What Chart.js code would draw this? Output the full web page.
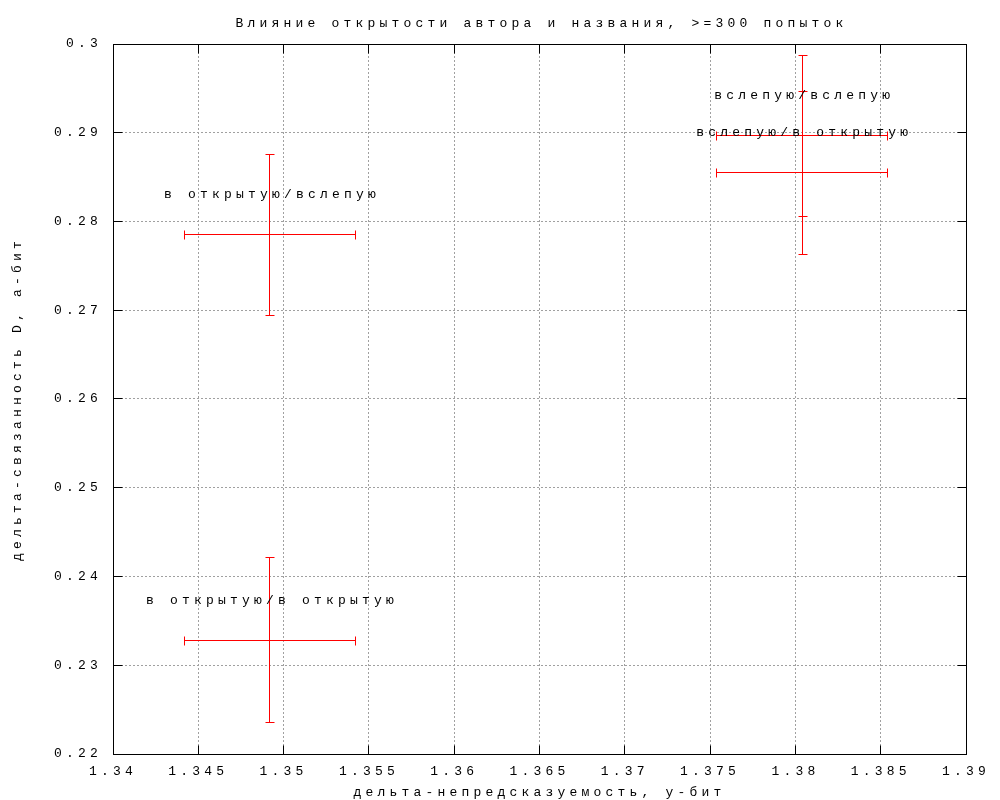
<!DOCTYPE html>
<html>
<head>
<meta charset="utf-8">
<script src="https://cdn.jsdelivr.net/npm/chart.js@4.4.0/dist/chart.umd.min.js"></script>
<style>
    body { margin: 0; background: #fff; }
    #wrap { width: 1000px; height: 800px; }
</style>
</head>
<body>
<div id="wrap"><canvas id="errChart" width="1000" height="800"></canvas></div>
<script>
// data
var pointNames = ['в открытую/вслепую', 'в открытую/в открытую', 'вслепую/вслепую', 'вслепую/в открытую'];
var xValues = [1.3492, 1.3492, 1.3804, 1.3804];
var xErrors = [0.0050, 0.0050, 0.0050, 0.0050];
var yValues = [0.2785, 0.2328, 0.2897, 0.2855];
var yLow = [0.2694, 0.2236, 0.2806, 0.2763];
var yHigh = [0.2876, 0.2421, 0.2987, 0.2946];

var xTicks = [1.34, 1.345, 1.35, 1.355, 1.36, 1.365, 1.37, 1.375, 1.38, 1.385, 1.39];
var xTickLabels = ['1.34', '1.345', '1.35', '1.355', '1.36', '1.365', '1.37', '1.375', '1.38', '1.385', '1.39'];
var yTicks = [0.22, 0.23, 0.24, 0.25, 0.26, 0.27, 0.28, 0.29, 0.3];
var yTickLabels = ['0.22', '0.23', '0.24', '0.25', '0.26', '0.27', '0.28', '0.29', '0.3'];

var chartTitle = 'Влияние открытости автора и названия, >=300 попыток';
var xTitle = 'дельта-непредсказуемость, у-бит';
var yTitle = 'дельта-связанность D, а-бит';

var FONT = 'Liberation Mono';

function crisp(p) {
    return Math.round(p - 0.5) + 0.5;
}

function line(ctx, x1, y1, x2, y2) {
    ctx.beginPath();
    ctx.moveTo(x1, y1);
    ctx.lineTo(x2, y2);
    ctx.stroke();
}

// gnuplot look: frame, inward ticks, error bars, labels
var gnuplotLook = {
    id: 'gnuplotLook',
    afterLayout: function (chart) {
        // centre the title over the plot area, like gnuplot does
        if (chart.titleBlock) {
            chart.titleBlock.left = chart.chartArea.left + 2;
            chart.titleBlock.right = chart.chartArea.right + 2;
        }
    },
    beforeDraw: function (chart) {
        var ctx = chart.ctx;
        ctx.fillStyle = '#fff';
        ctx.fillRect(0, 0, chart.width, chart.height);
        ctx.letterSpacing = '4.2px';
    },
    afterDatasetsDraw: function (chart) {
        var ctx = chart.ctx;
        var xs = chart.scales.x, ys = chart.scales.y;
        var a = chart.chartArea;
        var cap = 4;
        ctx.save();
        ctx.lineWidth = 1;

        // error bars
        ctx.strokeStyle = '#ff0000';
        for (var i = 0; i < xValues.length; i++) {
            var px = crisp(xs.getPixelForValue(xValues[i]));
            var py = crisp(ys.getPixelForValue(yValues[i]));
            var x1 = crisp(xs.getPixelForValue(xValues[i] - xErrors[i]));
            var x2 = crisp(xs.getPixelForValue(xValues[i] + xErrors[i]));
            var y1 = crisp(ys.getPixelForValue(yLow[i]));
            var y2 = crisp(ys.getPixelForValue(yHigh[i]));
            line(ctx, x1, py, x2, py);
            line(ctx, x1, py - cap, x1, py + cap + 1);
            line(ctx, x2, py - cap, x2, py + cap + 1);
            line(ctx, px, y1, px, y2);
            line(ctx, px - cap, y1, px + cap + 1, y1);
            line(ctx, px - cap, y2, px + cap + 1, y2);
        }

        // point labels
        ctx.fillStyle = '#000';
        ctx.font = '13px "' + FONT + '"';
        ctx.textAlign = 'center';
        ctx.textBaseline = 'middle';
        for (var j = 0; j < pointNames.length; j++) {
            var lx = xs.getPixelForValue(xValues[j]) + 2;
            var ly = ys.getPixelForValue(yValues[j]) - 40;
            ctx.fillText(pointNames[j], lx, ly);
        }

        // frame
        ctx.strokeStyle = '#000';
        var L = crisp(a.left), R = crisp(a.right), T = crisp(a.top), B = crisp(a.bottom);
        ctx.strokeRect(L, T, R - L, B - T);

        // inward ticks on all four sides
        var tl = 9;
        xTicks.forEach(function (v) {
            var x = crisp(xs.getPixelForValue(v));
            line(ctx, x, B, x, B - tl);
            line(ctx, x, T, x, T + tl);
        });
        yTicks.forEach(function (v) {
            var y = crisp(ys.getPixelForValue(v));
            line(ctx, L, y, L + tl, y);
            line(ctx, R, y, R - tl, y);
        });
        ctx.restore();
    }
};

var ctx = document.getElementById('errChart').getContext('2d');
var points = xValues.map(function (x, i) { return { x: x, y: yValues[i] }; });

var myChart = new Chart(ctx, {
    type: 'scatter',
    data: {
        datasets: [{
            label: 'points',
            data: points,
            pointRadius: 0,
            showLine: false
        }]
    },
    options: {
        responsive: false,
        devicePixelRatio: 1,
        animation: false,
        layout: { padding: { top: 0, left: 0, right: 34, bottom: 0 } },
        plugins: {
            legend: { display: false },
            tooltip: { enabled: false },
            title: {
                display: true,
                text: chartTitle,
                color: '#000',
                font: { family: FONT, size: 13, weight: 'normal', lineHeight: 1.2 },
                padding: { top: 16, bottom: 12.4 }
            }
        },
        scales: {
            x: {
                type: 'linear',
                min: 1.34,
                max: 1.39,
                afterBuildTicks: function (s) {
                    s.ticks = xTicks.map(function (v) { return { value: v }; });
                },
                afterFit: function (s) { s.height = 46; },
                ticks: {
                    autoSkip: false,
                    maxRotation: 0,
                    padding: 10,
                    color: '#000',
                    font: { family: FONT, size: 13 },
                    callback: function (v, i) { return xTickLabels[i]; }
                },
                grid: { color: '#a0a0a0', lineWidth: 1, drawTicks: false },
                border: { display: false, dash: [2, 2] },
                title: {
                    display: true,
                    text: xTitle,
                    color: '#000',
                    font: { family: FONT, size: 13, lineHeight: 1.2 },
                    padding: { top: 0, bottom: 0 }
                }
            },
            y: {
                type: 'linear',
                min: 0.22,
                max: 0.3,
                afterBuildTicks: function (s) {
                    s.ticks = yTicks.map(function (v) { return { value: v }; });
                },
                afterFit: function (s) { s.width = 113; },
                ticks: {
                    autoSkip: false,
                    padding: 11,
                    color: '#000',
                    font: { family: FONT, size: 13 },
                    callback: function (v, i) { return yTickLabels[i]; }
                },
                grid: { color: '#a0a0a0', lineWidth: 1, drawTicks: false },
                border: { display: false, dash: [2, 2] },
                title: {
                    display: true,
                    text: yTitle,
                    color: '#000',
                    font: { family: FONT, size: 13, lineHeight: 1.2 },
                    padding: { top: 10, bottom: 0 }
                }
            }
        }
    },
    plugins: [gnuplotLook]
});
</script>
</body>
</html>
